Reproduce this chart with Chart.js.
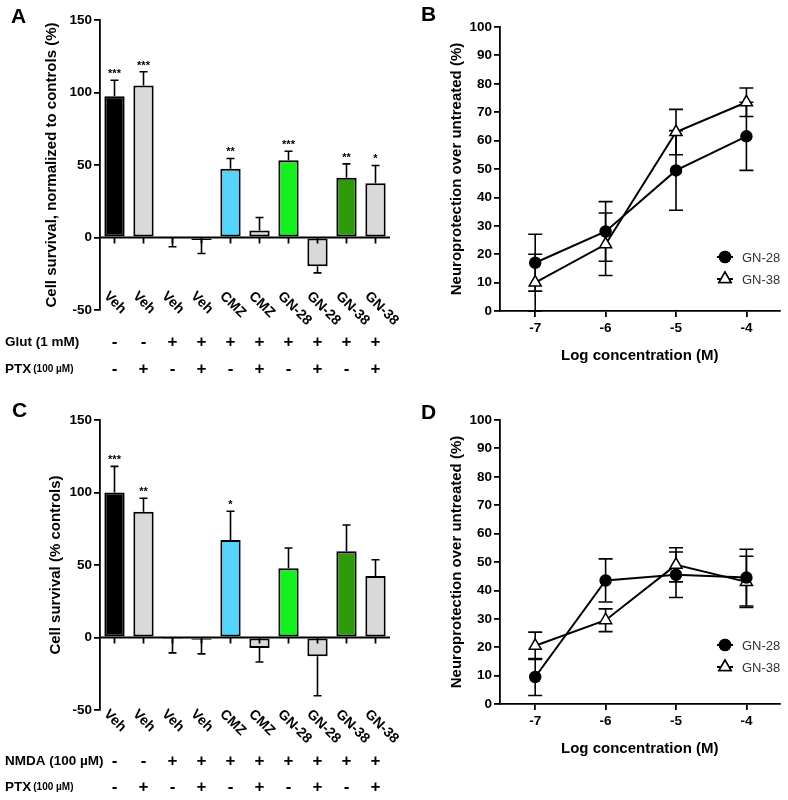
<!DOCTYPE html>
<html>
<head>
<meta charset="utf-8">
<script src="https://cdn.jsdelivr.net/npm/chart.js@4.4.1/dist/chart.umd.min.js"></script>
<style>
    body { margin: 0; background: #fff; width: 788px; height: 800px; position: relative; overflow: hidden; }
    canvas { position: absolute; }
</style>
</head>
<body>
<canvas id="panelA" width="420" height="390" style="left:0;top:0"></canvas>
<canvas id="panelB" width="388" height="390" style="left:400px;top:0"></canvas>
<canvas id="panelC" width="420" height="410" style="left:0;top:390px"></canvas>
<canvas id="panelD" width="388" height="410" style="left:400px;top:390px"></canvas>
<script>
// bar panels (A, C)
const treatments = ['Veh', 'Veh', 'Veh', 'Veh', 'CMZ', 'CMZ', 'GN-28', 'GN-28', 'GN-38', 'GN-38'];
const agonistRow = ['-', '-', '+', '+', '+', '+', '+', '+', '+', '+'];
const ptxRow = ['-', '+', '-', '+', '-', '+', '-', '+', '-', '+'];

const survivalGlut = [97.4, 104.8, -0.5, -1.8, 47.4, 4.8, 53.3, -19.8, 41.2, 37.4];
const survivalGlutErr = [11, 9.5, 5.9, 9.2, 7.1, 9, 6.2, 4.6, 9.6, 12.3];
const starsGlut = ['***', '***', '', '', '**', '', '***', '', '**', '*'];

const survivalNmda = [100, 86.8, -0.3, -1.5, 67.2, -7.2, 47.8, -13, 59.4, 42.5];
const survivalNmdaErr = [18, 9.2, 10.3, 9.8, 19.9, 9.7, 13.9, 27.2, 18.2, 11.1];
const starsNmda = ['***', '**', '', '', '*', '', '', '', '', ''];

// dose-response panels (B, D)
const logConc = [-7, -6, -5, -4];
const gn28Glut = [17, 28, 49.5, 61.5];
const gn28GlutErr = [10, 10.5, 14, 12];
const gn38Glut = [10, 23.5, 63, 73.5];
const gn38GlutErr = [10, 11, 8, 5];
const gn28Nmda = [9.5, 43.5, 45.5, 44.5];
const gn28NmdaErr = [6.5, 7.6, 8, 10];
const gn38Nmda = [20.5, 29.5, 49, 43];
const gn38NmdaErr = [4.8, 4, 6, 9];

const barColors = ['#000000', '#d9d9d9', '#d9d9d9', '#d9d9d9', '#55d4fb', '#d9d9d9', '#14f01e', '#d9d9d9', '#2f9a0a', '#d9d9d9'];
const FONT = "'Liberation Sans', Arial, sans-serif";

Chart.defaults.font.family = FONT;
Chart.defaults.color = '#000';

const drawErrors = (chart, opts) => {
    const { ctx } = chart;
    const yScale = chart.scales.y;
    ctx.save();
    ctx.strokeStyle = '#000';
    ctx.lineWidth = opts.lineWidth;
    chart.data.datasets.forEach((ds, i) => {
        if (!ds.errors) return;
        const meta = chart.getDatasetMeta(i);
        meta.data.forEach((el, j) => {
            const raw = ds.data[j];
            const v = typeof raw === 'object' ? raw.y : raw;
            const e = ds.errors[j];
            const ends = opts.oneSided ? [v >= 0 ? v + e : v - e] : [v + e, v - e];
            const y0 = yScale.getPixelForValue(v);
            ends.forEach(end => {
                const y1 = yScale.getPixelForValue(end);
                ctx.beginPath();
                ctx.moveTo(el.x, y0);
                ctx.lineTo(el.x, y1);
                ctx.moveTo(el.x - opts.cap / 2, y1);
                ctx.lineTo(el.x + opts.cap / 2, y1);
                ctx.stroke();
            });
        });
    });
    ctx.restore();
};

const errorBars = {
    id: 'errorBars',
    beforeDatasetsDraw(chart, args, opts) { if (opts.behind) drawErrors(chart, opts); },
    afterDatasetsDraw(chart, args, opts) { if (!opts.behind) drawErrors(chart, opts); }
};

const panelLetter = {
    id: 'panelLetter',
    afterDraw(chart, args, opts) {
        const { ctx } = chart;
        ctx.save();
        ctx.font = `bold 21px ${FONT}`;
        ctx.fillStyle = '#000';
        ctx.textBaseline = 'top';
        ctx.fillText(opts.text, opts.x, opts.y);
        ctx.restore();
    }
};

// zero line, category labels, stars and the +/- table under the bars
const barExtras = {
    id: 'barExtras',
    afterDatasetsDraw(chart, args, opts) {
        const { ctx, chartArea } = chart;
        const x = chart.scales.x, y = chart.scales.y;
        const zero = y.getPixelForValue(0);
        ctx.save();
        ctx.strokeStyle = '#000';
        ctx.lineWidth = 1.8;
        ctx.beginPath();
        ctx.moveTo(chartArea.left, zero);
        ctx.lineTo(chartArea.right, zero);
        treatments.forEach((t, i) => {
            const px = x.getPixelForValue(i);
            ctx.moveTo(px, zero);
            ctx.lineTo(px, zero + 6);
        });
        ctx.stroke();

        const ds = chart.data.datasets[0];
        ctx.fillStyle = '#000';
        ctx.font = `bold 11px ${FONT}`;
        ctx.textAlign = 'center';
        ctx.textBaseline = 'alphabetic';
        opts.stars.forEach((s, i) => {
            if (!s) return;
            const top = y.getPixelForValue(ds.data[i] + ds.errors[i]);
            ctx.fillText(s, x.getPixelForValue(i), top - 3);
        });

        ctx.font = `bold 14px ${FONT}`;
        ctx.textAlign = 'left';
        ctx.textBaseline = 'top';
        treatments.forEach((t, i) => {
            ctx.save();
            ctx.translate(x.getPixelForValue(i) - 3.5, chartArea.bottom - opts.labelDrop);
            ctx.rotate(Math.PI / 4);
            ctx.fillText(t, 0, 0);
            ctx.restore();
        });

        ctx.textBaseline = 'middle';
        opts.rows.forEach(row => {
            ctx.textAlign = 'left';
            ctx.font = `bold 13.5px ${FONT}`;
            ctx.fillText(row.name, 5, row.y);
            const w = ctx.measureText(row.name).width;
            ctx.font = `bold ${row.unitSize}px ${FONT}`;
            ctx.fillText(row.unit, 5 + w + 2, row.y);
            ctx.textAlign = 'center';
            ctx.font = `bold 17px ${FONT}`;
            row.values.forEach((s, i) => ctx.fillText(s, x.getPixelForValue(i), row.y));
        });
        ctx.restore();
    }
};

const lineLegend = {
    id: 'lineLegend',
    afterDraw(chart, args, opts) {
        const { ctx } = chart;
        ctx.save();
        chart.data.datasets.forEach((ds, i) => {
            const y = opts.y + i * opts.gap;
            ctx.strokeStyle = '#000';
            ctx.lineWidth = 2;
            ctx.beginPath();
            ctx.moveTo(opts.x - 8, y);
            ctx.lineTo(opts.x + 8, y);
            ctx.stroke();
            ctx.fillStyle = ds.pointBackgroundColor;
            ctx.lineWidth = ds.pointBorderWidth;
            Chart.helpers.drawPoint(ctx, { pointStyle: ds.pointStyle, radius: ds.pointRadius, borderWidth: ds.pointBorderWidth, rotation: 0 }, opts.x, y);
            ctx.fill();
            ctx.stroke();
            ctx.fillStyle = '#333';
            ctx.font = `13px ${FONT}`;
            ctx.textBaseline = 'middle';
            ctx.fillText(ds.label, opts.x + 17, y + 1);
        });
        ctx.restore();
    }
};

const yAxisBase = (title, titleSize, titlePad) => ({
    border: { display: true, color: '#000', width: 1.8 },
    grid: { drawOnChartArea: false, color: '#000', lineWidth: 1.8, tickLength: 6 },
    ticks: { font: { size: 13.5, weight: 'bold' }, padding: 2, color: '#000' },
    title: { display: true, text: title, font: { size: titleSize, weight: 'bold' }, padding: { top: titlePad, bottom: 0 }, color: '#000' },
    afterFit: s => { s.width = 100; }
});

const renderBarPanel = (id, values, errors, stars, yTitle, titleSize, titlePad, padTop, padBottom, labelDrop, rows, letter) => {
    const yAxis = yAxisBase(yTitle, titleSize, titlePad);
    yAxis.min = -50;
    yAxis.max = 150;
    yAxis.ticks.stepSize = 50;
    new Chart(document.getElementById(id), {
        type: 'bar',
        data: {
            labels: treatments,
            datasets: [{
                data: values,
                errors: errors,
                backgroundColor: barColors,
                borderColor: '#000',
                borderWidth: 2,
                borderSkipped: false,
                barPercentage: 0.7,
                categoryPercentage: 1
            }]
        },
        options: {
            responsive: false,
            animation: false,
            devicePixelRatio: 1,
            layout: { padding: { left: 0, right: 30, top: padTop, bottom: padBottom } },
            plugins: {
                legend: { display: false },
                tooltip: { enabled: false },
                errorBars: { oneSided: true, cap: 8, lineWidth: 1.6, behind: false },
                barExtras: { stars, labelDrop, rows },
                panelLetter: letter
            },
            scales: {
                x: { display: false },
                y: yAxis
            }
        },
        plugins: [barExtras, errorBars, panelLetter]
    });
};

const lineDataset = (label, values, errors, pointStyle, radius, fill) => ({
    label,
    data: logConc.map((x, i) => ({ x, y: values[i] })),
    errors,
    borderColor: '#000',
    borderWidth: 2,
    pointStyle,
    pointRadius: radius,
    pointBackgroundColor: fill,
    pointBorderColor: '#000',
    pointBorderWidth: 1.5,
    tension: 0
});

const renderLinePanel = (id, gn28, gn28Err, gn38, gn38Err, padTop, padBottom, padRight, legendY, letter) => {
    const yAxis = yAxisBase('Neuroprotection over untreated (%)', 15, 48);
    yAxis.min = 0;
    yAxis.max = 100;
    yAxis.ticks.stepSize = 10;
    new Chart(document.getElementById(id), {
        type: 'line',
        data: {
            datasets: [
                lineDataset('GN-28', gn28, gn28Err, 'circle', 5.5, '#000'),
                lineDataset('GN-38', gn38, gn38Err, 'triangle', 7, '#fff')
            ]
        },
        options: {
            responsive: false,
            animation: false,
            devicePixelRatio: 1,
            layout: { padding: { left: 0, right: padRight, top: padTop, bottom: padBottom } },
            plugins: {
                legend: { display: false },
                tooltip: { enabled: false },
                errorBars: { oneSided: false, cap: 14, lineWidth: 1.6, behind: true },
                lineLegend: { x: 325, y: legendY, gap: 22 },
                panelLetter: letter
            },
            scales: {
                x: {
                    type: 'linear',
                    min: -7.5,
                    max: -3.53,
                    afterBuildTicks: s => { s.ticks = logConc.map(v => ({ value: v })); },
                    border: { display: true, color: '#000', width: 1.8 },
                    grid: { drawOnChartArea: false, color: '#000', lineWidth: 1.8, tickLength: 6 },
                    ticks: { font: { size: 13.5, weight: 'bold' }, padding: 3, color: '#000' },
                    title: { display: true, text: 'Log concentration (M)', font: { size: 15, weight: 'bold' }, padding: { top: 0, bottom: 6 }, color: '#000' },
                    afterFit: s => { s.height = 60; }
                },
                y: yAxis
            }
        },
        plugins: [errorBars, lineLegend, panelLetter]
    });
};

renderBarPanel('panelA', survivalGlut, survivalGlutErr, starsGlut,
    'Cell survival, normalized to controls (%)', 15, 43, 20, 80, 21,
    [
        { name: 'Glut (1 mM)', unit: '', unitSize: 13, values: agonistRow, y: 342 },
        { name: 'PTX', unit: '(100 µM)', unitSize: 10, values: ptxRow, y: 369 }
    ],
    { text: 'A', x: 11, y: 7 });

renderLinePanel('panelB', gn28Glut, gn28GlutErr, gn38Glut, gn38GlutErr, 27, 19, 8, 257, { text: 'B', x: 21, y: 5 });

renderBarPanel('panelC', survivalNmda, survivalNmdaErr, starsNmda,
    'Cell survival (% controls)', 15, 47, 30, 90, 3,
    [
        { name: 'NMDA (100 µM)', unit: '', unitSize: 13.5, values: agonistRow, y: 371 },
        { name: 'PTX', unit: '(100 µM)', unitSize: 10, values: ptxRow, y: 397 }
    ],
    { text: 'C', x: 12, y: 11 });

renderLinePanel('panelD', gn28Nmda, gn28NmdaErr, gn38Nmda, gn38NmdaErr, 30, 36, 5, 255, { text: 'D', x: 21, y: 13 });
</script>
</body>
</html>
